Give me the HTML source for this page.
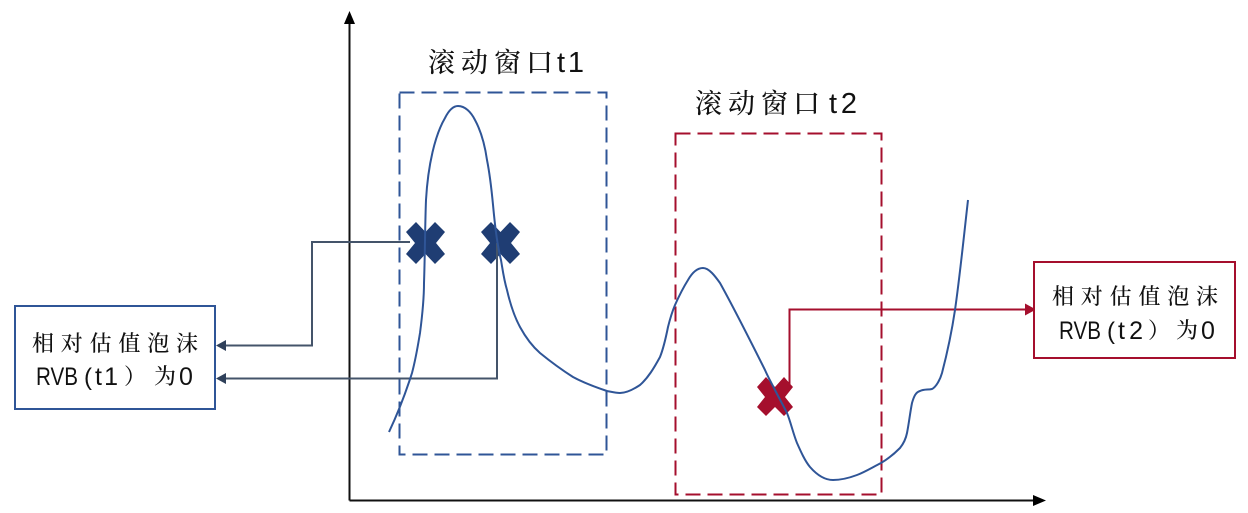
<!DOCTYPE html>
<html><head><meta charset="utf-8">
<style>
html,body{margin:0;padding:0;background:#fff;width:1248px;height:513px;overflow:hidden}
svg{display:block}
text{font-family:"Liberation Sans","Noto Serif CJK SC",serif;fill:#111}
.c{font-family:"Noto Serif CJK SC","Liberation Sans",serif;font-weight:500}
</style></head>
<body>
<svg width="1248" height="513" viewBox="0 0 1248 513" xmlns="http://www.w3.org/2000/svg">
<rect width="1248" height="513" fill="#fff"/>
<!-- windows -->
<rect x="399.5" y="92.5" width="207" height="362" fill="none" stroke="#2f5597" stroke-width="2" stroke-dasharray="15 7"/>
<rect x="675.5" y="133.5" width="206" height="361" fill="none" stroke="#a50f2d" stroke-width="2" stroke-dasharray="15 7"/>
<!-- axes -->
<path d="M349.5 500.5V20M349.500 500.500H1035" fill="none" stroke="#111" stroke-width="2"/>
<path d="M349.5 11L344 24H355Z" fill="#000"/>
<path d="M1046 500.5L1033 495V506Z" fill="#000"/>
<!-- crosses -->
<path d="M416 222L425.500 232L435 222L445 232L436 243L445 254L435 264L425.500 254L416 264L406 254L415 243L406 232Z" fill="#1f3d73"/>
<path d="M491 222L500.500 232L510 222L520 232L511 243L520 254L510 264L500.500 254L491 264L481 254L490 243L481 232Z" fill="#1f3d73"/>
<path d="M766 377L775 387L784 377L793 387L785 397L793 407L784 416L775 407L766 416L757 407L765 397L757 387Z" fill="#a50f2d"/>
<!-- connectors -->
<path d="M410 242H312V345.5H225M497 243V378.5H225" fill="none" stroke="#44546a" stroke-width="2"/>
<path d="M216 345.5L226 340V351Z" fill="#2f405a"/>
<path d="M216 378.5L226 373V384Z" fill="#2f405a"/>
<path d="M789.500 385V309.500H1026" fill="none" stroke="#a50f2d" stroke-width="2"/>
<path d="M1036 309.500L1025 303.500V315.500Z" fill="#a50f2d"/>
<!-- curve -->
<path d="M389 432C397 415 405 395 412 373C416 358 418 345 420 333C423 310 424 297 424 283C425 255 425 225 426 200C428 165 435 135 445 118C449 110 453 106 458 106C465 106 471 112 475 120C481 131 485 146 487 160C491 180 492 195 494 215C496 235 498 248 501 260C503 272 504 280 507 290C510 303 514 316 520 327C526 338 532 346 540 353C551 362 562 370 573 377C584 383 595 387 607 391C612 392 616 393 620 393C627 393 634 389 640 385C648 378 654 368 660 357C664 347 666 337 668 327C670 319 672 312 675 305C679 296 683 288 688 280C692 273 697 268 703 268C709 268 715 276 720 283C735 310 750 340 765 370C768 377 772 384 775 390C779 398 783 405 787 413C791 423 793 433 797 443C801 452 805 461 810 467C817 475 825 480 833 480C841 480 849 478 857 475C865 472 873 467 881 463C888 459 894 454 900 448C904 443 906 438 907 433C909 423 910 413 912 403C914 396 916 392 920 391C924 389 928 390 932 389C936 387 940 380 942 373C948 350 952 330 955 310C960 275 964 235 968 200" fill="none" stroke="#2f5597" stroke-width="2"/>
<!-- boxes -->
<rect x="15" y="306" width="200" height="103" fill="#fff" stroke="#2f5597" stroke-width="2"/>
<rect x="1034" y="262" width="201" height="96" fill="#fff" stroke="#a50f2d" stroke-width="2"/>
<!-- left box text -->
<text class="c" x="32" y="351" font-size="22" textLength="166" lengthAdjust="spacing">相对估值泡沫</text>
<text x="36" y="385" font-size="25" textLength="42" lengthAdjust="spacingAndGlyphs">RVB</text>
<text x="84" y="385" font-size="24">(</text>
<text x="95" y="385" font-size="25" textLength="23" lengthAdjust="spacing">t1</text>
<text class="c" x="124" y="384" font-size="22">）</text>
<text class="c" x="154" y="384" font-size="22">为</text>
<text x="179" y="385" font-size="25">0</text>
<!-- right box text -->
<text class="c" x="1052" y="304" font-size="22" textLength="166" lengthAdjust="spacing">相对估值泡沫</text>
<text x="1059" y="339" font-size="25" textLength="42" lengthAdjust="spacingAndGlyphs">RVB</text>
<text x="1107" y="339" font-size="24">(</text>
<text x="1118" y="339" font-size="25" textLength="25" lengthAdjust="spacing">t2</text>
<text class="c" x="1148" y="338" font-size="22">）</text>
<text class="c" x="1176" y="338" font-size="22">为</text>
<text x="1201" y="339" font-size="25">0</text>
<!-- titles -->
<text class="c" x="428 461 494 526" y="72" font-size="27">滚动窗口</text>
<text x="557" y="72" font-size="29" textLength="27" lengthAdjust="spacing">t1</text>
<text class="c" x="695 728 761 793" y="113" font-size="27">滚动窗口</text>
<text x="829" y="113" font-size="29" textLength="28" lengthAdjust="spacing">t2</text>
</svg>
</body></html>
